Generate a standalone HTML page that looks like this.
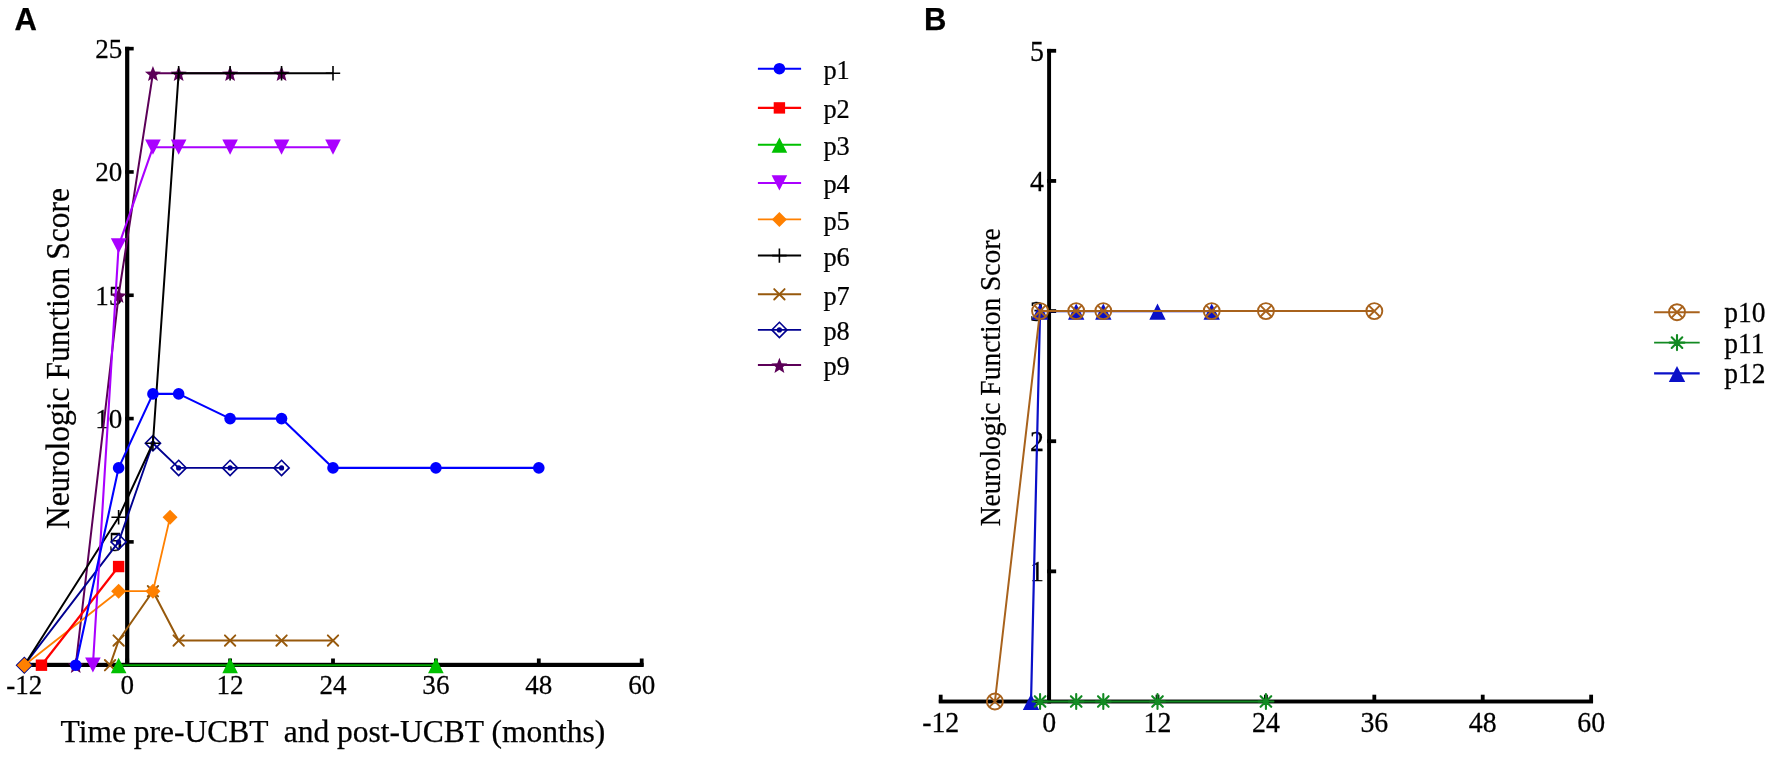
<!DOCTYPE html>
<html lang="en">
<head>
<meta charset="utf-8">
<title>Neurologic Function Score</title>
<style>
html,body{margin:0;padding:0;background:#fff;}
body{width:1772px;height:757px;overflow:hidden;}
svg{display:block;filter:blur(0.45px);}
text{fill:#000;stroke:#000;stroke-width:0.25px;}
</style>
</head>
<body>
<svg width="1772" height="757" viewBox="0 0 1772 757">
<rect width="1772" height="757" fill="#fff"/>
<g id="chartA">
<rect x="125.1" y="46.75" width="4.2" height="620.25" fill="#000"/>
<rect x="24.3" y="662.8" width="619.3" height="4.2" fill="#000"/>
<rect x="125.1" y="540.09" width="8.6" height="3.6" fill="#000"/>
<text transform="translate(122.4 551.29) scale(0.96 1)" text-anchor="end" font-family="'Liberation Serif', 'Times New Roman', serif" font-size="28.2">5</text>
<rect x="125.1" y="416.78" width="8.6" height="3.6" fill="#000"/>
<text transform="translate(122.4 427.98) scale(0.96 1)" text-anchor="end" font-family="'Liberation Serif', 'Times New Roman', serif" font-size="28.2">10</text>
<rect x="125.1" y="293.47" width="8.6" height="3.6" fill="#000"/>
<text transform="translate(122.4 304.67) scale(0.96 1)" text-anchor="end" font-family="'Liberation Serif', 'Times New Roman', serif" font-size="28.2">15</text>
<rect x="125.1" y="170.16" width="8.6" height="3.6" fill="#000"/>
<text transform="translate(122.4 181.36) scale(0.96 1)" text-anchor="end" font-family="'Liberation Serif', 'Times New Roman', serif" font-size="28.2">20</text>
<rect x="125.1" y="46.85" width="8.6" height="3.6" fill="#000"/>
<text transform="translate(122.4 58.05) scale(0.96 1)" text-anchor="end" font-family="'Liberation Serif', 'Times New Roman', serif" font-size="28.2">25</text>
<rect x="125.3" y="658.5" width="3.8" height="8" fill="#000"/>
<rect x="228.2" y="658.5" width="3.8" height="8" fill="#000"/>
<rect x="331.1" y="658.5" width="3.8" height="8" fill="#000"/>
<rect x="434" y="658.5" width="3.8" height="8" fill="#000"/>
<rect x="536.9" y="658.5" width="3.8" height="8" fill="#000"/>
<rect x="639.8" y="658.5" width="3.8" height="8" fill="#000"/>
<text transform="translate(24.3 693.9) scale(0.96 1)" text-anchor="middle" font-family="'Liberation Serif', 'Times New Roman', serif" font-size="28.2">-12</text>
<text transform="translate(127.2 693.9) scale(0.96 1)" text-anchor="middle" font-family="'Liberation Serif', 'Times New Roman', serif" font-size="28.2">0</text>
<text transform="translate(230.1 693.9) scale(0.96 1)" text-anchor="middle" font-family="'Liberation Serif', 'Times New Roman', serif" font-size="28.2">12</text>
<text transform="translate(333 693.9) scale(0.96 1)" text-anchor="middle" font-family="'Liberation Serif', 'Times New Roman', serif" font-size="28.2">24</text>
<text transform="translate(435.9 693.9) scale(0.96 1)" text-anchor="middle" font-family="'Liberation Serif', 'Times New Roman', serif" font-size="28.2">36</text>
<text transform="translate(538.8 693.9) scale(0.96 1)" text-anchor="middle" font-family="'Liberation Serif', 'Times New Roman', serif" font-size="28.2">48</text>
<text transform="translate(641.7 693.9) scale(0.96 1)" text-anchor="middle" font-family="'Liberation Serif', 'Times New Roman', serif" font-size="28.2">60</text>
<text x="60.6" y="741.6" font-family="'Liberation Serif', 'Times New Roman', serif" font-size="31.5" xml:space="preserve">Time pre-UCBT  and post-UCBT (months)</text>
<text transform="translate(68.8 358.6) rotate(-90) scale(0.9375 1)" text-anchor="middle" font-family="'Liberation Serif', 'Times New Roman', serif" font-size="33.6">Neurologic Function Score</text>
<polyline points="75.75,665.2 118.62,295.27 152.93,73.31 178.65,73.31 230.1,73.31 281.55,73.31" fill="none" stroke="#5c0058" stroke-width="2.0" stroke-linejoin="round"/>
<polygon points="75.75,657.8 77.87,663.29 83.74,663.6 79.17,667.31 80.69,673 75.75,669.8 70.81,673 72.33,667.31 67.76,663.6 73.63,663.29" fill="#5c0058"/>
<polygon points="118.62,287.87 120.74,293.36 126.61,293.67 122.05,297.38 123.56,303.07 118.62,299.87 113.69,303.07 115.2,297.38 110.64,293.67 116.51,293.36" fill="#5c0058"/>
<polygon points="152.93,65.91 155.04,71.4 160.91,71.72 156.35,75.42 157.86,81.11 152.93,77.91 147.99,81.11 149.5,75.42 144.94,71.72 150.81,71.4" fill="#5c0058"/>
<polygon points="178.65,65.91 180.77,71.4 186.64,71.72 182.07,75.42 183.59,81.11 178.65,77.91 173.71,81.11 175.23,75.42 170.66,71.72 176.53,71.4" fill="#5c0058"/>
<polygon points="230.1,65.91 232.22,71.4 238.09,71.72 233.52,75.42 235.04,81.11 230.1,77.91 225.16,81.11 226.68,75.42 222.11,71.72 227.98,71.4" fill="#5c0058"/>
<polygon points="281.55,65.91 283.67,71.4 289.54,71.72 284.97,75.42 286.49,81.11 281.55,77.91 276.61,81.11 278.13,75.42 273.56,71.72 279.43,71.4" fill="#5c0058"/>
<polyline points="24.3,665.2 118.62,541.89 152.93,443.24 178.65,467.9 230.1,467.9 281.55,467.9" fill="none" stroke="#000090" stroke-width="1.9" stroke-linejoin="round"/>
<path d="M24.3 657.6L31.9 665.2L24.3 672.8L16.7 665.2Z" fill="none" stroke="#000090" stroke-width="1.6"/><circle cx="24.3" cy="665.2" r="2.6" fill="#000090"/>
<path d="M118.62 534.29L126.22 541.89L118.62 549.49L111.03 541.89Z" fill="none" stroke="#000090" stroke-width="1.6"/><circle cx="118.62" cy="541.89" r="2.6" fill="#000090"/>
<path d="M152.93 435.64L160.53 443.24L152.93 450.84L145.33 443.24Z" fill="none" stroke="#000090" stroke-width="1.6"/><circle cx="152.93" cy="443.24" r="2.6" fill="#000090"/>
<path d="M178.65 460.3L186.25 467.9L178.65 475.5L171.05 467.9Z" fill="none" stroke="#000090" stroke-width="1.6"/><circle cx="178.65" cy="467.9" r="2.6" fill="#000090"/>
<path d="M230.1 460.3L237.7 467.9L230.1 475.5L222.5 467.9Z" fill="none" stroke="#000090" stroke-width="1.6"/><circle cx="230.1" cy="467.9" r="2.6" fill="#000090"/>
<path d="M281.55 460.3L289.15 467.9L281.55 475.5L273.95 467.9Z" fill="none" stroke="#000090" stroke-width="1.6"/><circle cx="281.55" cy="467.9" r="2.6" fill="#000090"/>
<polyline points="110.05,665.2 118.62,640.54 152.93,591.21 178.65,640.54 230.1,640.54 281.55,640.54 333,640.54" fill="none" stroke="#97590c" stroke-width="2.0" stroke-linejoin="round"/>
<path d="M104.85 660L115.25 670.4M104.85 670.4L115.25 660" stroke="#97590c" stroke-width="1.9" stroke-linecap="round" fill="none"/>
<path d="M113.42 635.34L123.83 645.74M113.42 645.74L123.83 635.34" stroke="#97590c" stroke-width="1.9" stroke-linecap="round" fill="none"/>
<path d="M147.73 586.01L158.12 596.41M147.73 596.41L158.12 586.01" stroke="#97590c" stroke-width="1.9" stroke-linecap="round" fill="none"/>
<path d="M173.45 635.34L183.85 645.74M173.45 645.74L183.85 635.34" stroke="#97590c" stroke-width="1.9" stroke-linecap="round" fill="none"/>
<path d="M224.9 635.34L235.3 645.74M224.9 645.74L235.3 635.34" stroke="#97590c" stroke-width="1.9" stroke-linecap="round" fill="none"/>
<path d="M276.35 635.34L286.75 645.74M276.35 645.74L286.75 635.34" stroke="#97590c" stroke-width="1.9" stroke-linecap="round" fill="none"/>
<path d="M327.8 635.34L338.2 645.74M327.8 645.74L338.2 635.34" stroke="#97590c" stroke-width="1.9" stroke-linecap="round" fill="none"/>
<polyline points="24.3,665.2 118.62,517.23 152.93,443.24 178.65,73.31 230.1,73.31 281.55,73.31 333,73.31" fill="none" stroke="#000000" stroke-width="2.0" stroke-linejoin="round"/>
<path d="M17.1 665.2H31.5M24.3 658V672.4" stroke="#000000" stroke-width="1.6" fill="none"/>
<path d="M111.42 517.23H125.83M118.62 510.03V524.43" stroke="#000000" stroke-width="1.6" fill="none"/>
<path d="M145.73 443.24H160.12M152.93 436.04V450.44" stroke="#000000" stroke-width="1.6" fill="none"/>
<path d="M171.45 73.31H185.85M178.65 66.11V80.51" stroke="#000000" stroke-width="1.6" fill="none"/>
<path d="M222.9 73.31H237.3M230.1 66.11V80.51" stroke="#000000" stroke-width="1.6" fill="none"/>
<path d="M274.35 73.31H288.75M281.55 66.11V80.51" stroke="#000000" stroke-width="1.6" fill="none"/>
<path d="M325.8 73.31H340.2M333 66.11V80.51" stroke="#000000" stroke-width="1.6" fill="none"/>
<polyline points="24.3,665.2 118.62,591.21 152.93,591.21 170.07,517.23" fill="none" stroke="#ff8000" stroke-width="1.8" stroke-linejoin="round"/>
<path d="M24.3 657.7L31.8 665.2L24.3 672.7L16.8 665.2Z" fill="#ff8000"/>
<path d="M118.62 583.71L126.12 591.21L118.62 598.71L111.12 591.21Z" fill="#ff8000"/>
<path d="M152.93 583.71L160.43 591.21L152.93 598.71L145.43 591.21Z" fill="#ff8000"/>
<path d="M170.07 509.73L177.57 517.23L170.07 524.73L162.57 517.23Z" fill="#ff8000"/>
<polyline points="92.9,665.2 118.62,245.95 152.93,147.3 178.65,147.3 230.1,147.3 281.55,147.3 333,147.3" fill="none" stroke="#aa00ff" stroke-width="2.1" stroke-linejoin="round"/>
<path d="M92.9 672.6L100.7 657.5L85.1 657.5Z" fill="#aa00ff"/>
<path d="M118.62 253.35L126.42 238.25L110.83 238.25Z" fill="#aa00ff"/>
<path d="M152.93 154.7L160.73 139.6L145.12 139.6Z" fill="#aa00ff"/>
<path d="M178.65 154.7L186.45 139.6L170.85 139.6Z" fill="#aa00ff"/>
<path d="M230.1 154.7L237.9 139.6L222.3 139.6Z" fill="#aa00ff"/>
<path d="M281.55 154.7L289.35 139.6L273.75 139.6Z" fill="#aa00ff"/>
<path d="M333 154.7L340.8 139.6L325.2 139.6Z" fill="#aa00ff"/>
<polyline points="118.62,665.2 230.1,665.2 435.9,665.2" fill="none" stroke="#00a400" stroke-width="2.1" stroke-linejoin="round"/>
<path d="M118.62 657.8L126.42 673.2L110.83 673.2Z" fill="#00c000"/>
<path d="M230.1 657.8L237.9 673.2L222.3 673.2Z" fill="#00c000"/>
<path d="M435.9 657.8L443.7 673.2L428.1 673.2Z" fill="#00c000"/>
<polyline points="41.45,665.2 118.62,566.55" fill="none" stroke="#ff0000" stroke-width="2.2" stroke-linejoin="round"/>
<rect x="35.75" y="659.5" width="11.4" height="11.4" fill="#ff0000"/>
<rect x="112.92" y="560.85" width="11.4" height="11.4" fill="#ff0000"/>
<polyline points="75.75,665.2 118.62,467.9 152.93,393.92 178.65,393.92 230.1,418.58 281.55,418.58 333,467.9 435.9,467.9 538.8,467.9" fill="none" stroke="#0000ff" stroke-width="2.1" stroke-linejoin="round"/>
<circle cx="75.75" cy="665.2" r="5.8" fill="#0000ff"/>
<circle cx="118.62" cy="467.9" r="5.8" fill="#0000ff"/>
<circle cx="152.93" cy="393.92" r="5.8" fill="#0000ff"/>
<circle cx="178.65" cy="393.92" r="5.8" fill="#0000ff"/>
<circle cx="230.1" cy="418.58" r="5.8" fill="#0000ff"/>
<circle cx="281.55" cy="418.58" r="5.8" fill="#0000ff"/>
<circle cx="333" cy="467.9" r="5.8" fill="#0000ff"/>
<circle cx="435.9" cy="467.9" r="5.8" fill="#0000ff"/>
<circle cx="538.8" cy="467.9" r="5.8" fill="#0000ff"/>
</g>
<g id="legendA">
<path d="M757.9 68.7H801.1" stroke="#0000ff" stroke-width="2.1"/>
<circle cx="779.4" cy="68.7" r="5.8" fill="#0000ff"/>
<text transform="translate(823.4 78.9) scale(0.94 1)" font-family="'Liberation Serif', 'Times New Roman', serif" font-size="28">p1</text>
<path d="M757.9 107.9H801.1" stroke="#ff0000" stroke-width="2.2"/>
<rect x="773.7" y="102.2" width="11.4" height="11.4" fill="#ff0000"/>
<text transform="translate(823.4 118.1) scale(0.94 1)" font-family="'Liberation Serif', 'Times New Roman', serif" font-size="28">p2</text>
<path d="M757.9 144.8H801.1" stroke="#00c000" stroke-width="2.1"/>
<path d="M779.4 137.4L787.2 152.8L771.6 152.8Z" fill="#00c000"/>
<text transform="translate(823.4 155) scale(0.94 1)" font-family="'Liberation Serif', 'Times New Roman', serif" font-size="28">p3</text>
<path d="M757.9 183H801.1" stroke="#aa00ff" stroke-width="2.1"/>
<path d="M779.4 190.4L787.2 175.3L771.6 175.3Z" fill="#aa00ff"/>
<text transform="translate(823.4 193.2) scale(0.94 1)" font-family="'Liberation Serif', 'Times New Roman', serif" font-size="28">p4</text>
<path d="M757.9 219.4H801.1" stroke="#ff8000" stroke-width="1.8"/>
<path d="M779.4 211.9L786.9 219.4L779.4 226.9L771.9 219.4Z" fill="#ff8000"/>
<text transform="translate(823.4 229.6) scale(0.94 1)" font-family="'Liberation Serif', 'Times New Roman', serif" font-size="28">p5</text>
<path d="M757.9 255.6H801.1" stroke="#000000" stroke-width="2.0"/>
<path d="M772.2 255.6H786.6M779.4 248.4V262.8" stroke="#000000" stroke-width="1.6" fill="none"/>
<text transform="translate(823.4 265.8) scale(0.94 1)" font-family="'Liberation Serif', 'Times New Roman', serif" font-size="28">p6</text>
<path d="M757.9 294.3H801.1" stroke="#97590c" stroke-width="2.0"/>
<path d="M774.2 289.1L784.6 299.5M774.2 299.5L784.6 289.1" stroke="#97590c" stroke-width="1.9" stroke-linecap="round" fill="none"/>
<text transform="translate(823.4 304.5) scale(0.94 1)" font-family="'Liberation Serif', 'Times New Roman', serif" font-size="28">p7</text>
<path d="M757.9 329.9H801.1" stroke="#000090" stroke-width="1.9"/>
<path d="M779.4 322.3L787 329.9L779.4 337.5L771.8 329.9Z" fill="none" stroke="#000090" stroke-width="1.6"/><circle cx="779.4" cy="329.9" r="2.6" fill="#000090"/>
<text transform="translate(823.4 340.1) scale(0.94 1)" font-family="'Liberation Serif', 'Times New Roman', serif" font-size="28">p8</text>
<path d="M757.9 365.1H801.1" stroke="#5c0058" stroke-width="2.0"/>
<polygon points="779.4,357.7 781.52,363.19 787.39,363.5 782.82,367.21 784.34,372.9 779.4,369.7 774.46,372.9 775.98,367.21 771.41,363.5 777.28,363.19" fill="#5c0058"/>
<text transform="translate(823.4 375.3) scale(0.94 1)" font-family="'Liberation Serif', 'Times New Roman', serif" font-size="28">p9</text>
</g>
<g id="chartB">
<rect x="1047.15" y="48.9" width="3.9" height="654.55" fill="#000"/>
<rect x="938.79" y="699.55" width="654.25" height="3.9" fill="#000"/>
<rect x="1047.15" y="569.46" width="9" height="3.8" fill="#000"/>
<text transform="translate(1044 581.16) scale(0.96 1)" text-anchor="end" font-family="'Liberation Serif', 'Times New Roman', serif" font-size="29">1</text>
<rect x="1047.15" y="439.32" width="9" height="3.8" fill="#000"/>
<text transform="translate(1044 451.02) scale(0.96 1)" text-anchor="end" font-family="'Liberation Serif', 'Times New Roman', serif" font-size="29">2</text>
<rect x="1047.15" y="309.18" width="9" height="3.8" fill="#000"/>
<text transform="translate(1044 320.88) scale(0.96 1)" text-anchor="end" font-family="'Liberation Serif', 'Times New Roman', serif" font-size="29">3</text>
<rect x="1047.15" y="179.04" width="9" height="3.8" fill="#000"/>
<text transform="translate(1044 190.74) scale(0.96 1)" text-anchor="end" font-family="'Liberation Serif', 'Times New Roman', serif" font-size="29">4</text>
<rect x="1047.15" y="48.9" width="9" height="3.8" fill="#000"/>
<text transform="translate(1044 60.6) scale(0.96 1)" text-anchor="end" font-family="'Liberation Serif', 'Times New Roman', serif" font-size="29">5</text>
<rect x="938.79" y="694.7" width="3.8" height="8" fill="#000"/>
<text transform="translate(940.69 732) scale(0.96 1)" text-anchor="middle" font-family="'Liberation Serif', 'Times New Roman', serif" font-size="29">-12</text>
<rect x="1047.2" y="694.7" width="3.8" height="8" fill="#000"/>
<text transform="translate(1049.1 732) scale(0.96 1)" text-anchor="middle" font-family="'Liberation Serif', 'Times New Roman', serif" font-size="29">0</text>
<rect x="1155.61" y="694.7" width="3.8" height="8" fill="#000"/>
<text transform="translate(1157.51 732) scale(0.96 1)" text-anchor="middle" font-family="'Liberation Serif', 'Times New Roman', serif" font-size="29">12</text>
<rect x="1264.02" y="694.7" width="3.8" height="8" fill="#000"/>
<text transform="translate(1265.92 732) scale(0.96 1)" text-anchor="middle" font-family="'Liberation Serif', 'Times New Roman', serif" font-size="29">24</text>
<rect x="1372.42" y="694.7" width="3.8" height="8" fill="#000"/>
<text transform="translate(1374.32 732) scale(0.96 1)" text-anchor="middle" font-family="'Liberation Serif', 'Times New Roman', serif" font-size="29">36</text>
<rect x="1480.83" y="694.7" width="3.8" height="8" fill="#000"/>
<text transform="translate(1482.73 732) scale(0.96 1)" text-anchor="middle" font-family="'Liberation Serif', 'Times New Roman', serif" font-size="29">48</text>
<rect x="1589.24" y="694.7" width="3.8" height="8" fill="#000"/>
<text transform="translate(1591.14 732) scale(0.96 1)" text-anchor="middle" font-family="'Liberation Serif', 'Times New Roman', serif" font-size="29">60</text>
<text transform="translate(1000 377.3) rotate(-90) scale(0.905 1)" text-anchor="middle" font-family="'Liberation Serif', 'Times New Roman', serif" font-size="30.4">Neurologic Function Score</text>
<polyline points="1031.03,701.5 1040.07,311.08 1076.2,311.08 1103.3,311.08 1157.51,311.08 1211.71,311.08" fill="none" stroke="#0a10c8" stroke-width="2.2" stroke-linejoin="round"/>
<path d="M1031.03 694L1039.23 710.1L1022.83 710.1Z" fill="#0a10c8"/>
<path d="M1040.07 303.58L1048.27 319.68L1031.87 319.68Z" fill="#0a10c8"/>
<path d="M1076.2 303.58L1084.4 319.68L1068 319.68Z" fill="#0a10c8"/>
<path d="M1103.3 303.58L1111.5 319.68L1095.1 319.68Z" fill="#0a10c8"/>
<path d="M1157.51 303.58L1165.71 319.68L1149.31 319.68Z" fill="#0a10c8"/>
<path d="M1211.71 303.58L1219.91 319.68L1203.51 319.68Z" fill="#0a10c8"/>
<polyline points="1040.07,701.5 1076.2,701.5 1103.3,701.5 1157.51,701.5 1265.92,701.5" fill="none" stroke="#128a22" stroke-width="1.9" stroke-linejoin="round"/>
<path d="M1040.07 694V709M1032.57 701.5H1047.57M1034.76 696.2L1045.37 706.8M1034.76 706.8L1045.37 696.2" stroke="#128a22" stroke-width="2.1" stroke-linecap="round" fill="none"/>
<path d="M1076.2 694V709M1068.7 701.5H1083.7M1070.9 696.2L1081.51 706.8M1070.9 706.8L1081.51 696.2" stroke="#128a22" stroke-width="2.1" stroke-linecap="round" fill="none"/>
<path d="M1103.3 694V709M1095.8 701.5H1110.8M1098 696.2L1108.61 706.8M1098 706.8L1108.61 696.2" stroke="#128a22" stroke-width="2.1" stroke-linecap="round" fill="none"/>
<path d="M1157.51 694V709M1150.01 701.5H1165.01M1152.2 696.2L1162.81 706.8M1152.2 706.8L1162.81 696.2" stroke="#128a22" stroke-width="2.1" stroke-linecap="round" fill="none"/>
<path d="M1265.92 694V709M1258.42 701.5H1273.42M1260.61 696.2L1271.22 706.8M1260.61 706.8L1271.22 696.2" stroke="#128a22" stroke-width="2.1" stroke-linecap="round" fill="none"/>
<polyline points="994.9,701.5 1040.07,311.08 1076.2,311.08 1103.3,311.08 1211.71,311.08 1265.92,311.08 1374.32,311.08" fill="none" stroke="#a8621c" stroke-width="2.0" stroke-linejoin="round"/>
<circle cx="994.9" cy="701.5" r="8.0" fill="none" stroke="#a8621c" stroke-width="1.9"/><path d="M989.24 695.84L1000.55 707.16M989.24 707.16L1000.55 695.84" stroke="#a8621c" stroke-width="1.9" fill="none"/>
<circle cx="1040.07" cy="311.08" r="8.0" fill="none" stroke="#a8621c" stroke-width="1.9"/><path d="M1034.41 305.42L1045.72 316.74M1034.41 316.74L1045.72 305.42" stroke="#a8621c" stroke-width="1.9" fill="none"/>
<circle cx="1076.2" cy="311.08" r="8.0" fill="none" stroke="#a8621c" stroke-width="1.9"/><path d="M1070.55 305.42L1081.86 316.74M1070.55 316.74L1081.86 305.42" stroke="#a8621c" stroke-width="1.9" fill="none"/>
<circle cx="1103.3" cy="311.08" r="8.0" fill="none" stroke="#a8621c" stroke-width="1.9"/><path d="M1097.65 305.42L1108.96 316.74M1097.65 316.74L1108.96 305.42" stroke="#a8621c" stroke-width="1.9" fill="none"/>
<circle cx="1211.71" cy="311.08" r="8.0" fill="none" stroke="#a8621c" stroke-width="1.9"/><path d="M1206.06 305.42L1217.37 316.74M1206.06 316.74L1217.37 305.42" stroke="#a8621c" stroke-width="1.9" fill="none"/>
<circle cx="1265.92" cy="311.08" r="8.0" fill="none" stroke="#a8621c" stroke-width="1.9"/><path d="M1260.26 305.42L1271.57 316.74M1260.26 316.74L1271.57 305.42" stroke="#a8621c" stroke-width="1.9" fill="none"/>
<circle cx="1374.32" cy="311.08" r="8.0" fill="none" stroke="#a8621c" stroke-width="1.9"/><path d="M1368.67 305.42L1379.98 316.74M1368.67 316.74L1379.98 305.42" stroke="#a8621c" stroke-width="1.9" fill="none"/>
</g>
<g id="legendB">
<path d="M1654.1 312.2H1699.7" stroke="#a8621c" stroke-width="2.0"/>
<circle cx="1677" cy="312.2" r="8.0" fill="none" stroke="#a8621c" stroke-width="1.9"/><path d="M1671.34 306.54L1682.66 317.86M1671.34 317.86L1682.66 306.54" stroke="#a8621c" stroke-width="1.9" fill="none"/>
<text transform="translate(1724.3 322.1) scale(0.95 1)" font-family="'Liberation Serif', 'Times New Roman', serif" font-size="29">p10</text>
<path d="M1654.1 342.6H1699.7" stroke="#128a22" stroke-width="1.9"/>
<path d="M1677 335.1V350.1M1669.5 342.6H1684.5M1671.7 337.3L1682.3 347.9M1671.7 347.9L1682.3 337.3" stroke="#128a22" stroke-width="2.1" stroke-linecap="round" fill="none"/>
<text transform="translate(1724.3 352.5) scale(0.95 1)" font-family="'Liberation Serif', 'Times New Roman', serif" font-size="29">p11</text>
<path d="M1654.1 373.4H1699.7" stroke="#0a10c8" stroke-width="2.2"/>
<path d="M1677 365.9L1685.2 382L1668.8 382Z" fill="#0a10c8"/>
<text transform="translate(1724.3 383.3) scale(0.95 1)" font-family="'Liberation Serif', 'Times New Roman', serif" font-size="29">p12</text>
</g>
<text x="14.6" y="30" font-family="'Liberation Sans', Arial, sans-serif" font-weight="bold" font-size="31">A</text>
<text x="924" y="30" font-family="'Liberation Sans', Arial, sans-serif" font-weight="bold" font-size="31">B</text>
</svg>
</body>
</html>
